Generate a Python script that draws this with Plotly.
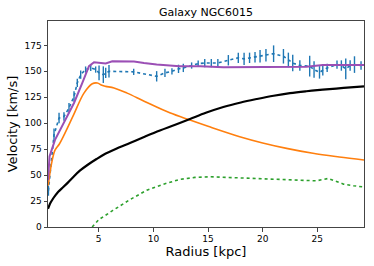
import plotly.graph_objects as go

# Observed rotation curve
r_obs = [0.40, 0.91, 1.37, 1.82, 2.28, 2.74, 3.04, 3.35, 3.80, 4.27, 4.72, 5.03, 5.42, 5.64, 5.94,
         8.20, 10.30, 11.06, 11.70, 12.30, 12.74, 13.50, 14.10, 14.70, 15.30, 15.90, 16.86, 17.77,
         18.30, 18.80, 19.30, 19.76, 20.30, 21.00, 21.90, 22.35, 22.75, 23.40, 24.30, 24.70, 25.20,
         25.50, 25.90, 26.80, 27.20, 27.60, 28.00, 28.40, 29.00]
v_obs = [35, 88.8, 105, 106.5, 114.6, 125.8, 138.8, 146.8, 151.7, 153.3, 151.7, 148.5, 146.8, 148.5, 150,
         149.5, 145.2, 148.5, 150, 152.4, 153.3, 155.6, 157.5, 158, 158, 158, 160.7, 163,
         162, 163, 163.6, 164.6, 165.5, 167, 164.5, 161, 158, 155.6, 155, 151.7, 149,
         151, 153.3, 156.5, 155.6, 152.4, 155.6, 156.5, 155.6]
e_obs = [5, 6, 5, 4, 5, 5, 4, 4, 3, 3, 3, 7, 8, 5, 6,
         3, 5, 4, 3, 4, 4, 3, 3, 4, 4, 4, 5, 5,
         6, 5, 5, 6, 6, 8, 7, 7, 8, 5, 10, 8, 6,
         5, 4, 4, 5, 10, 5, 8, 4]

# Total model (purple)
r_tot = [0.36, 0.50, 1.00, 1.90, 2.74, 3.50, 4.11, 4.57, 5.18, 5.64, 6.24, 8.23, 9.14, 10.30,
         12.40, 14.30, 16.40, 19.00, 22.50, 24.00, 25.50, 27.00, 29.27]
v_tot = [45, 68, 84, 103, 119.5, 138.8, 155, 158.8, 158, 157.5, 159.7, 159.4, 158, 156.5,
         155, 155, 154, 154, 154, 154.5, 156, 156, 156]

# Disk (orange)
r_disk = [0.38, 0.70, 1.00, 1.40, 1.80, 2.70, 3.65, 4.41, 4.87, 5.30, 5.64, 6.40, 7.60, 9.20,
          11.50, 13.35, 15.00, 17.90, 20.00, 22.30, 24.60, 27.00, 29.27]
v_disk = [40, 62, 74, 80, 88, 108, 129, 138, 138.8, 136.5, 135.5, 134, 129, 121,
          110, 103, 97, 87, 81, 75.5, 71, 67.5, 64.6]

# Halo (black)
r_halo = [0.36, 0.45, 0.60, 0.80, 1.00, 1.30, 1.76, 2.20, 2.70, 3.30, 4.00, 4.80, 5.60, 6.50,
          7.86, 9.20, 10.60, 12.00, 13.35, 14.80, 16.40, 18.00, 19.45, 21.00, 22.50, 24.00,
          25.50, 27.40, 29.27]
v_halo = [17.5, 20, 23.5, 27, 30, 34, 38.5, 43, 48.5, 54.5, 60, 65.5, 70.5, 75,
          81, 87, 93, 98.5, 104, 110, 115.6, 120, 123.3, 126.5, 129, 130.8,
          132.3, 134, 135.5]

# Gas (green dotted)
r_gas = [4.40, 4.50, 5.00, 6.30, 7.80, 9.40, 11.00, 12.40, 13.80, 15.20, 16.80, 18.50, 20.00,
         21.60, 23.20, 24.90, 26.00, 26.50, 27.40, 28.30, 29.27]
v_gas = [0, 1, 7, 16, 26, 35.5, 41.5, 45.8, 47.8, 48.4, 47.8, 46.8, 46.5, 45.8, 45, 44.5,
         46.8, 45, 41.3, 39.8, 38.5]

x_ticks = [5, 10, 15, 20, 25]
y_ticks = [0, 25, 50, 75, 100, 125, 150, 175]

fig = go.Figure()
fig.add_trace(go.Scatter(x=r_obs, y=v_obs, mode="lines",
                         line=dict(color="#1f77b4", width=1.6, dash="dot"),
                         error_y=dict(type="data", array=e_obs, visible=True,
                                      color="#1f77b4", thickness=1.4, width=0)))
fig.add_trace(go.Scatter(x=r_disk, y=v_disk, mode="lines", line=dict(color="#ff7f0e", width=1.6, shape="spline")))
fig.add_trace(go.Scatter(x=r_gas, y=v_gas, mode="lines", line=dict(color="#2ca02c", width=1.6, dash="dot")))
fig.add_trace(go.Scatter(x=r_halo, y=v_halo, mode="lines", line=dict(color="black", width=2.2, shape="spline")))
fig.add_trace(go.Scatter(x=r_tot, y=v_tot, mode="lines", line=dict(color="#9b4fb5", width=2.0)))

axis_common = dict(showline=True, linecolor="#444", linewidth=1, mirror=True,
                   ticks="outside", ticklen=3.5, tickcolor="#444", tickwidth=1,
                   showgrid=False, zeroline=False, automargin=False,
                   tickfont=dict(family="DejaVu Sans", size=9, color="black"))

fig.update_layout(
    width=374, height=266,
    margin=dict(l=48, r=10, t=21, b=39),
    paper_bgcolor="white", plot_bgcolor="white",
    showlegend=False,
    title=dict(text="Galaxy NGC6015", x=206 / 374, xanchor="center",
               y=1 - 12 / 266, yanchor="middle",
               font=dict(family="DejaVu Sans", size=11, color="black")),
    xaxis=dict(range=[0.36, 29.27], tickvals=x_ticks,
               title=dict(text="Radius [kpc]", font=dict(family="DejaVu Sans", size=13, color="black"),
                          standoff=3),
               **axis_common),
    yaxis=dict(range=[0, 198.5], tickvals=y_ticks,
               title=dict(text="Velocity [km/s]", font=dict(family="DejaVu Sans", size=13, color="black"),
                          standoff=3),
               **axis_common),
)

fig.write_html("out.html", config={"displayModeBar": False},
               post_script="document.body.style.margin='0';")
